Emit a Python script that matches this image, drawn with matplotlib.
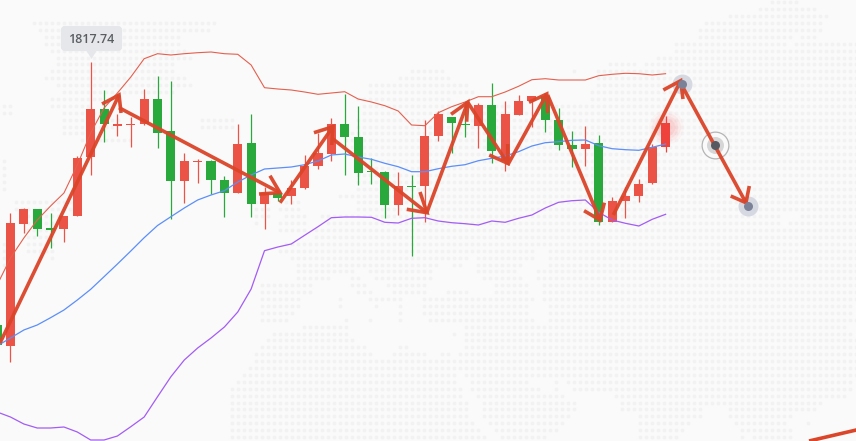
#!/usr/bin/env python3

import numpy as np
import matplotlib.pyplot as plt
from matplotlib.patches import FancyBboxPatch, Polygon

# y values are chart levels (top of the image = 0)
candle_dir = ["g", "r", "r", "g", "g", "r", "r", "r", "g", "r", "r", "r", "g",
              "g", "r", "r", "g", "g", "r", "g", "r", "g", "r", "r", "r", "r",
              "g", "g", "g", "g", "r", "g", "r", "r", "g", "g", "r", "g", "r",
              "r", "r", "g", "g", "g", "r", "g", "r", "r", "r", "r", "r"]
body_top = [325, 222.7, 209, 209, 228.3, 216, 158, 109, 109, 124.3, 124, 99, 99,
            131, 161, 161, 161, 180, 144, 143, 193, 193, 188, 166, 153, 124,
            124, 137, 170.7, 172, 186, 186, 136, 114, 117, 123.7, 105, 105, 114,
            101, 96, 96, 120, 145, 144, 143, 201, 196, 184, 147, 123]
body_bottom = [345, 345.7, 224, 229, 228.3, 229, 215.7, 156.7, 124, 124.3, 124,
               124, 132.7, 180.7, 180.7, 161, 180, 192.7, 192.7, 203.7, 203.7,
               197.7, 196, 187.7, 166, 153.7, 136.7, 172.7, 170.7, 204.7, 204.7,
               186, 186, 136, 122.7, 123.7, 125.7, 150.7, 160.7, 115, 101, 120,
               144.7, 148.7, 149, 221.7, 221.7, 200.7, 196, 183, 146.7]
wick_high = [325, 212.7, 207.7, 209, 212.7, 216, 156, 61.7, 90, 114, 116.7, 89,
             76, 81, 153, 159, 160, 176, 124, 114, 187, 193, 180, 155, 133, 118,
             94, 106, 158, 171, 171.7, 175, 120, 111, 117, 101.7, 103, 83, 101,
             95, 96, 93, 108, 131, 126, 135, 197, 186.7, 179, 144, 116]
wick_low = [345, 361.7, 233, 236, 248.3, 241.7, 215.7, 175, 141.7, 136, 146.7,
            125, 147.7, 219, 202.7, 183, 194, 217, 192.7, 216.7, 229, 201, 204,
            189, 168.7, 160.7, 175, 185, 184, 218, 215, 255.7, 221.7, 140.7,
            152.7, 136.7, 147.7, 162.7, 170.7, 115.3, 126.7, 131.7, 150, 166.7,
            165.7, 225, 221.7, 217.7, 202, 184, 151.7]

band_upper = [285, 258, 238, 220, 206, 193, 165, 133, 108, 93, 77, 58.7, 53.7, 55,
              53.7, 52.7, 52, 53.7, 54.3, 65, 87.7, 89, 90, 92, 94.3, 93, 91.7, 99,
              102, 105.7, 111, 125, 125.7, 112.7, 106.7, 102, 96.7, 96.7, 92, 86.3,
              79.7, 78.7, 80, 80, 80, 75.7, 74.3, 73.3, 73.7, 75, 73.7]
band_middle = [346, 338, 330, 325, 317.7, 310, 300, 289.3, 276.7, 264, 251, 237.7,
               225.5, 216.7, 208, 200, 195, 190.7, 182, 175, 169, 168, 167, 164.7,
               161, 155, 154, 157, 159.3, 163.3, 166.7, 171.7, 171.7, 168.7, 166.3,
               164.7, 160.7, 158.3, 156, 151.7, 146, 142.7, 141.7, 140.3, 140,
               145.7, 148.7, 149.7, 150.3, 147.3, 144]
band_lower = [412, 417, 424, 428, 428, 427, 432, 440, 440, 436, 426.7, 417, 396.7,
              376.7, 360, 348, 338, 327, 312, 289, 250.7, 247, 244, 235.3, 226.7,
              217.7, 217, 217, 217.3, 222.3, 223, 218.3, 217.7, 221, 222.7, 223.7,
              225, 221, 222.3, 218.3, 215, 208, 202.3, 200.7, 200, 212.3, 220,
              223.3, 226, 219.3, 214.3]

# hand drawn legs, x in candle numbers
leg_x0 = [0.22, 9.12, 21.16, 25.03, 32.13, 35.2, 38.19, 41.18, 46.09, 51.2]
leg_y0 = [343, 107.7, 202.7, 138, 213, 102.3, 165, 95, 215, 85]
tip_x = [9.12, 21.16, 25.12, 32.15, 35.2, 38.19, 41.11, 45.09, 51.13, 56.01]
tip_y = [95, 192.7, 126.7, 212.7, 102.3, 163.3, 94, 220, 80.7, 202.7]
barb1_x = [7.85, 20.41, 23.7, 31.63, 33.95, 36.81, 39.78, 43.9, 49.83, 54.87]
barb1_y = [104, 175.7, 132.7, 192, 114.3, 155, 102.3, 210.7, 90, 196]
barb2_x = [9.27, 19.59, 25.03, 30.64, 35.12, 38.19, 41.18, 45.42, 51.3, 56.26]
barb2_y = [113, 194, 145, 209.3, 121.7, 144, 113, 202.7, 99, 186]
next_leg_x = [60.73, 64.39]
next_leg_y = [441, 429.6]

point_x = [51.2, 56.16]
point_y = [84, 205.7]
mid_point_x = 53.67
mid_point_y = 145

# dotted world map in the background: row number -> dot spans in image pixels
map_rows = {
    0: [(770, 795)], 1: [(758, 817)], 2: [(728, 825)],
    3: [(33, 215), (703, 820)], 4: [(40, 207), (698, 820)],
    5: [(45, 60), (122, 180), (698, 790), (800, 813)],
    6: [(45, 180), (675, 783), (793, 856)], 7: [(50, 187), (675, 856)],
    8: [(60, 190), (660, 856)], 9: [(60, 175), (608, 637), (643, 856)],
    10: [(50, 175), (410, 443), (573, 573), (600, 856)],
    11: [(45, 185), (400, 448), (600, 856)],
    12: [(60, 190), (368, 467), (600, 856)], 13: [(62, 170), (370, 470), (590, 856)],
    14: [(50, 100), (360, 447), (590, 856)], 15: [(0, 13), (50, 90), (363, 510), (540, 856)],
    16: [(0, 13), (65, 100), (362, 856)], 17: [(65, 120), (200, 233), (360, 856)],
    18: [(65, 110), (200, 233), (360, 856)], 19: [(65, 100), (345, 856)],
    20: [(80, 130), (345, 856)], 21: [(345, 856)], 22: [(345, 856)],
    23: [(0, 7), (360, 856)], 24: [(0, 7), (360, 856)], 25: [(0, 7), (360, 856)],
    26: [(0, 7), (360, 856)], 27: [(0, 7), (360, 856)],
    28: [(338, 355), (360, 856)], 29: [(18, 70), (255, 270), (280, 300), (360, 856)],
    30: [(15, 70), (255, 270), (280, 300), (360, 856)],
    31: [(20, 60), (255, 270), (285, 305), (320, 780), (800, 856)],
    32: [(25, 55), (255, 258), (280, 305), (327, 780), (787, 856)],
    33: [(28, 55), (280, 303), (313, 856)], 34: [(30, 52), (313, 856)],
    35: [(0, 13), (30, 52), (285, 856)], 36: [(0, 13), (30, 50), (280, 533), (547, 856)],
    37: [(0, 13), (50, 50), (292, 467), (477, 533), (548, 856)],
    38: [(0, 13), (298, 438), (452, 462), (477, 522), (548, 856)],
    39: [(297, 353), (370, 432), (477, 515), (537, 856)],
    40: [(298, 330), (350, 360), (375, 432), (483, 520), (537, 856)],
    41: [(262, 312), (350, 365), (387, 425), (495, 525), (542, 856)],
    42: [(262, 312), (357, 372), (393, 425), (447, 468), (495, 525), (542, 856)],
    43: [(262, 300), (340, 340), (368, 383), (390, 403), (423, 532), (543, 856)],
    44: [(262, 298), (340, 340), (375, 375), (400, 400), (423, 527), (548, 850)],
    45: [(262, 293), (400, 400), (423, 525), (548, 848)],
    46: [(262, 287), (347, 347), (370, 370), (400, 400), (428, 532), (548, 856)],
    47: [(303, 347), (465, 846)], 48: [(273, 347), (453, 453), (465, 850)],
    49: [(268, 350), (465, 856)], 50: [(262, 365), (400, 407), (465, 856)],
    51: [(255, 370), (393, 423), (442, 450), (458, 856)], 52: [(255, 856)],
    53: [(250, 856)], 54: [(243, 455), (465, 525), (533, 856)],
    55: [(237, 455), (470, 527), (555, 555), (567, 850)],
    56: [(230, 460), (470, 540), (555, 555), (573, 850)],
    57: [(230, 462), (477, 560), (615, 843)],
    58: [(230, 465), (483, 573), (620, 820)],
    59: [(230, 468), (483, 573), (620, 700), (728, 813)],
    60: [(230, 468), (483, 570), (638, 700), (728, 790)],
    61: [(230, 473), (488, 563), (638, 688), (735, 783), (807, 807)],
    62: [(230, 480), (495, 557), (638, 682), (740, 790)],
    63: [(230, 487), (500, 545), (638, 677), (740, 740), (753, 790)],
}

RED = "#ec5347"
GREEN = "#29a93b"
ARROW = "#db4529"
BG = "#fafafa"


def map_dots(rows):
    xs, ys = [], []
    for row, spans in rows.items():
        for left, right in spans:
            for col in range(0, 143):
                x = 4 + 6 * col
                if left - 2 <= x <= right + 2:
                    xs.append(x)
                    ys.append(2.3 + 6.9 * row)
    return xs, ys


fig = plt.figure(figsize=(8.56, 4.41), dpi=100, facecolor=BG)

bg_ax = fig.add_axes([0, 0, 1, 1])
bg_ax.set_xlim(0, 856)
bg_ax.set_ylim(441, 0)
bg_ax.axis("off")
dots_x, dots_y = map_dots(map_rows)
bg_ax.scatter(dots_x, dots_y, s=7.5, color="#f2f2f3", linewidths=0)

ax = fig.add_axes([0, 0, 1, 1])
ax.patch.set_alpha(0)
ax.set_xlim(2.9 / 13.37, 858.9 / 13.37)
ax.set_ylim(441, 0)
ax.axis("off")

# glow behind the last candle
for size, alpha in zip([620, 430, 280, 160], [0.03, 0.05, 0.06, 0.08]):
    ax.scatter([50], [127], s=size, color="#ff3b3b", alpha=alpha, linewidths=0, zorder=1)

candles = np.arange(len(candle_dir))
for i in candles:
    col = RED if candle_dir[i] == "r" else GREEN
    if i == 50:
        col = "#f0423c"
    ax.vlines(i, wick_high[i], wick_low[i], color=col, lw=0.9, zorder=2)
    ax.bar(i, max(body_bottom[i] - body_top[i], 1.4), width=0.68,
           bottom=body_top[i], color=col, linewidth=0, zorder=2)

ax.plot(candles, band_upper, color="#e4604e", lw=0.8, zorder=3)
ax.plot(candles, band_middle, color="#5b8ff9", lw=0.9, zorder=3)
ax.plot(candles, band_lower, color="#a35cf5", lw=0.9, zorder=3)

for i in range(len(leg_x0)):
    ax.plot([leg_x0[i], tip_x[i]], [leg_y0[i], tip_y[i]], color=ARROW, lw=2.6,
            alpha=0.95, solid_capstyle="butt", zorder=4)
    ax.plot([barb1_x[i], tip_x[i], barb2_x[i]], [barb1_y[i], tip_y[i], barb2_y[i]],
            color=ARROW, lw=2.6, alpha=0.95, solid_capstyle="butt",
            solid_joinstyle="miter", zorder=4)
ax.plot(next_leg_x, next_leg_y, color=ARROW, lw=2.6, solid_capstyle="butt", zorder=4)

ax.scatter(point_x, point_y, s=207, color="#c9ccd8", alpha=0.7, linewidths=0, zorder=3.5)
ax.scatter(point_x, point_y, s=42, color="#7b8298", linewidths=0, zorder=5)
ax.scatter([mid_point_x], [mid_point_y], s=370, facecolor=BG, edgecolor="#b5b5b5",
           linewidths=0.9, zorder=3.5)
ax.scatter([mid_point_x], [mid_point_y], s=150, color="#d6d6d6", linewidths=0, zorder=3.6)
ax.scatter([mid_point_x], [mid_point_y], s=42, color="#565a60", linewidths=0, zorder=5)

# tooltip on the highest wick
bg_ax.add_patch(FancyBboxPatch((63, 28), 57, 21, boxstyle="round,pad=0,rounding_size=2",
                               mutation_aspect=1, facecolor="#e5e7ea", edgecolor="#e5e7ea",
                               lw=3, zorder=6))
bg_ax.add_patch(Polygon([(86, 50), (97, 50), (91.5, 59)], facecolor="#e5e7ea", lw=0, zorder=6))
bg_ax.text(91.5, 39.5, "1817.74", ha="center", va="center", fontsize=9,
           fontfamily="Open Sans", fontweight="semibold", color="#5a5d62", zorder=7)

fig.savefig("out.png", dpi=100, facecolor=BG)
